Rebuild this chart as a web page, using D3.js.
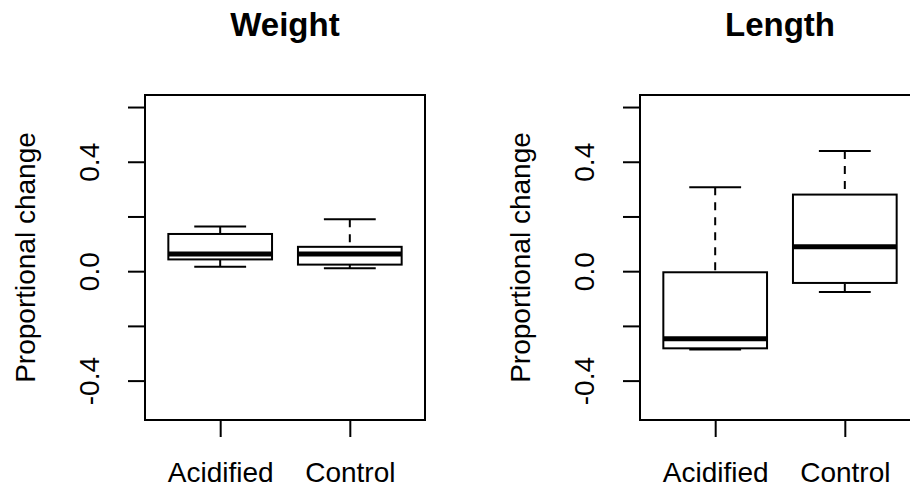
<!DOCTYPE html>
<html>
<head>
<meta charset="utf-8">
<script src="https://cdn.jsdelivr.net/npm/d3@7"></script>
<style>
  html, body { margin: 0; padding: 0; background: #fff; }
  svg { display: block; font-family: "Liberation Sans", Arial, sans-serif; }
</style>
</head>
<body>
<svg id="chart" width="910" height="491"></svg>
<script>
// ---- data ----
const categories = ["Acidified", "Control"];
const panelTitles = ["Weight", "Length"];
const yLabel = "Proportional change";
const yTicks = [-0.4, -0.2, 0.0, 0.2, 0.4, 0.6];
const yTickLabels = ["-0.4", "", "0.0", "", "0.4", ""];

const weightLowerWhisker = [0.016, 0.011];
const weightQ1           = [0.043, 0.024];
const weightMedian       = [0.063, 0.063];
const weightQ3           = [0.136, 0.089];
const weightUpperWhisker = [0.163, 0.190];

const lengthLowerWhisker = [-0.286, -0.076];
const lengthQ1           = [-0.282, -0.043];
const lengthMedian       = [-0.247, 0.089];
const lengthQ3           = [-0.004, 0.280];
const lengthUpperWhisker = [0.307, 0.439];

const panelData = [
  { title: panelTitles[0], lo: weightLowerWhisker, q1: weightQ1, med: weightMedian, q3: weightQ3, hi: weightUpperWhisker },
  { title: panelTitles[1], lo: lengthLowerWhisker, q1: lengthQ1, med: lengthMedian, q3: lengthQ3, hi: lengthUpperWhisker }
];

// ---- layout ----
const svg = d3.select("#chart");
const panelLeft = [145, 640];
const plotW = 280, plotTop = 95, plotBottom = 420;
const fontSize = 28;

const y = d3.scaleLinear().domain([-0.544, 0.644]).range([plotBottom, plotTop]);

panelData.forEach((p, pi) => {
  const left = panelLeft[pi];
  const x = d3.scalePoint().domain(categories).range([left, left + plotW]).padding(0.58);
  const boxW = x.step() * 0.8;
  const g = svg.append("g");

  categories.forEach((c, i) => {
    const cx = x(c);
    const bg = g.append("g").attr("stroke", "#000").attr("fill", "none");
    bg.append("line").attr("x1", cx).attr("x2", cx).attr("y1", y(p.hi[i])).attr("y2", y(p.q3[i]))
      .attr("stroke-width", 2).attr("stroke-dasharray", "8,7");
    bg.append("line").attr("x1", cx).attr("x2", cx).attr("y1", y(p.lo[i])).attr("y2", y(p.q1[i]))
      .attr("stroke-width", 2).attr("stroke-dasharray", "8,7");
    [p.hi[i], p.lo[i]].forEach(v => {
      bg.append("line").attr("x1", cx - boxW / 4).attr("x2", cx + boxW / 4)
        .attr("y1", y(v)).attr("y2", y(v)).attr("stroke-width", 2);
    });
    bg.append("rect").attr("x", cx - boxW / 2).attr("width", boxW)
      .attr("y", y(p.q3[i])).attr("height", y(p.q1[i]) - y(p.q3[i]))
      .attr("fill", "#fff").attr("stroke-width", 2);
    bg.append("line").attr("x1", cx - boxW / 2).attr("x2", cx + boxW / 2)
      .attr("y1", y(p.med[i])).attr("y2", y(p.med[i])).attr("stroke-width", 5);
  });

  g.append("rect").attr("x", left).attr("y", plotTop).attr("width", plotW).attr("height", plotBottom - plotTop)
    .attr("fill", "none").attr("stroke", "#000").attr("stroke-width", 2);

  const ya = g.append("g").attr("transform", `translate(${left},0)`)
    .call(d3.axisLeft(y).tickValues(yTicks).tickSize(17).tickFormat((d, i) => yTickLabels[i]));
  ya.select(".domain").remove();
  ya.selectAll(".tick line").attr("stroke", "#000").attr("stroke-width", 2);
  ya.selectAll(".tick text")
    .attr("x", 0).attr("dy", 0).attr("fill", "#000")
    .attr("text-anchor", "middle")
    .attr("font-size", fontSize).attr("font-family", "Liberation Sans, Arial, sans-serif")
    .attr("transform", "translate(-46,0) rotate(-90)");

  const xa = g.append("g").attr("transform", `translate(0,${plotBottom})`)
    .call(d3.axisBottom(x).tickSize(17));
  xa.select(".domain").remove();
  xa.selectAll(".tick line").attr("stroke", "#000").attr("stroke-width", 2);
  xa.selectAll(".tick text")
    .attr("y", 62).attr("dy", 0).attr("fill", "#000")
    .attr("font-size", fontSize).attr("font-family", "Liberation Sans, Arial, sans-serif");

  g.append("text")
    .attr("transform", `translate(${left - 110},${(plotTop + plotBottom) / 2}) rotate(-90)`)
    .attr("text-anchor", "middle").attr("font-size", fontSize).attr("fill", "#000")
    .text(yLabel);

  g.append("text")
    .attr("x", left + plotW / 2).attr("y", 36)
    .attr("text-anchor", "middle").attr("font-size", 33).attr("font-weight", "bold").attr("fill", "#000")
    .text(p.title);
});
</script>
</body>
</html>
